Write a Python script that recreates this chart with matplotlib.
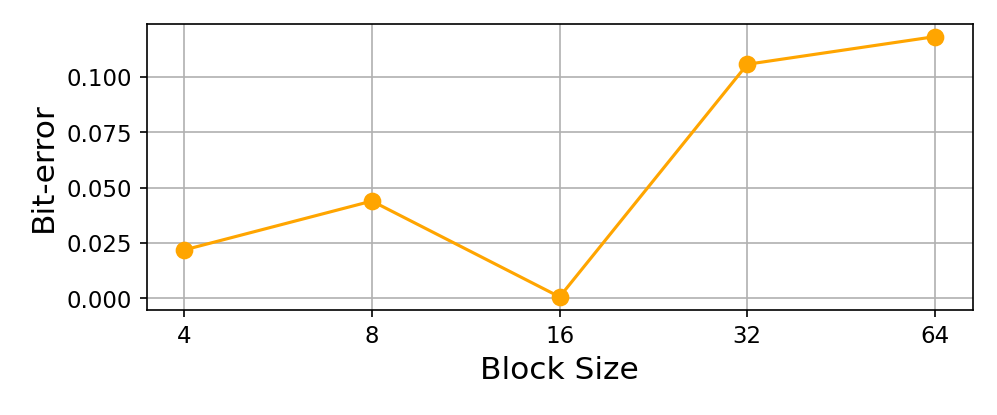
import numpy as np
import matplotlib
matplotlib.use("Agg")
import matplotlib.pyplot as plt

# block sizes and measured bit-error
block_sizes = ["4", "8", "16", "32", "64"]
bit_error = [0.0218, 0.0439, 0.0006, 0.1057, 0.1182]

fig, ax = plt.subplots(figsize=(6.65, 2.77), dpi=150)
x = np.arange(len(block_sizes))
ax.plot(x, bit_error, marker="o", color="orange", markersize=7.5, linewidth=1.5)
ax.set_xticks(x)
ax.set_xticklabels(block_sizes)
ax.tick_params(labelsize=11)
ax.set_xlabel("Block Size", fontsize=15)
ax.set_ylabel("Bit-error", fontsize=15)
ax.grid(True)
fig.subplots_adjust(left=0.147, right=0.975, top=0.942, bottom=0.253)
fig.savefig("out.png", dpi=150)
